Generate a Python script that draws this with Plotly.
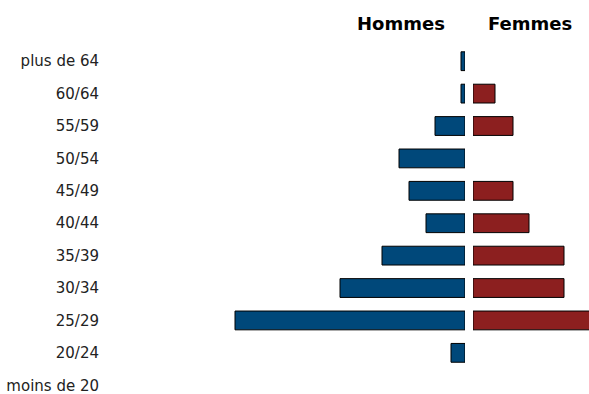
import plotly.graph_objects as go
from plotly.subplots import make_subplots

# Age groups, listed top to bottom as in the picture
age_groups = ["plus de 64", "60/64", "55/59", "50/54", "45/49", "40/44",
              "35/39", "30/34", "25/29", "20/24", "moins de 20"]
hommes = [4, 4, 30, 66, 56, 39, 83, 125, 230, 14, 0]
femmes = [0, 22, 40, 0, 40, 56, 91, 91, 120, 0, 0]

# plot bottom-to-top
cats = age_groups[::-1]
h_vals = hommes[::-1]
f_vals = femmes[::-1]

W, H = 589, 394
L, T = 108, 45
pw = W - L

fig = make_subplots(rows=1, cols=2, shared_yaxes=True, horizontal_spacing=0)

blue = "#00487A"
red = "#8C1F1F"

fig.add_trace(go.Bar(y=cats, x=h_vals, orientation="h", name="Hommes",
                     marker=dict(color=blue,
                                 line=dict(color="black",
                                           width=[1 if v else 0 for v in h_vals])),
                     showlegend=False, hoverinfo="skip"), row=1, col=1)
fig.add_trace(go.Bar(y=cats, x=f_vals, orientation="h", name="Femmes",
                     marker=dict(color=red,
                                 line=dict(color="black",
                                           width=[1 if v else 0 for v in f_vals])),
                     showlegend=False, hoverinfo="skip"), row=1, col=2)

left_w = 465 - L
right_start = 473 - L

fig.update_layout(
    width=W, height=H,
    margin=dict(l=L, r=0, t=T, b=0),
    plot_bgcolor="white", paper_bgcolor="white",
    bargap=0.42,
    font=dict(family="DejaVu Sans", size=15, color="#222222"),
    xaxis=dict(domain=[0, left_w / pw], range=[left_w, 0], visible=False,
               showgrid=False, zeroline=False),
    xaxis2=dict(domain=[right_start / pw, 1], range=[0, W - 473], visible=False,
                showgrid=False, zeroline=False),
    yaxis=dict(type="category", categoryorder="array", categoryarray=cats,
               range=[-0.27, 10.5], showgrid=False, zeroline=False,
               showline=False, ticks="", ticklabelstandoff=8,
               tickfont=dict(family="DejaVu Sans", size=15, color="#222222")),
    yaxis2=dict(showgrid=False, zeroline=False, showline=False, ticks="",
                showticklabels=False),
    annotations=[
        dict(text="<b>Hommes</b>", xref="paper", yref="paper",
             x=(401 - L) / pw, y=1 + (T - 24) / (H - T), xanchor="center",
             yanchor="middle", showarrow=False,
             font=dict(family="DejaVu Sans", size=18, color="black")),
        dict(text="<b>Femmes</b>", xref="paper", yref="paper",
             x=(530 - L) / pw, y=1 + (T - 24) / (H - T), xanchor="center",
             yanchor="middle", showarrow=False,
             font=dict(family="DejaVu Sans", size=18, color="black")),
    ],
)

fig.write_html("out.html",
               config={"displayModeBar": False},
               post_script="document.body.style.margin='0px';document.body.style.overflow='hidden';")
